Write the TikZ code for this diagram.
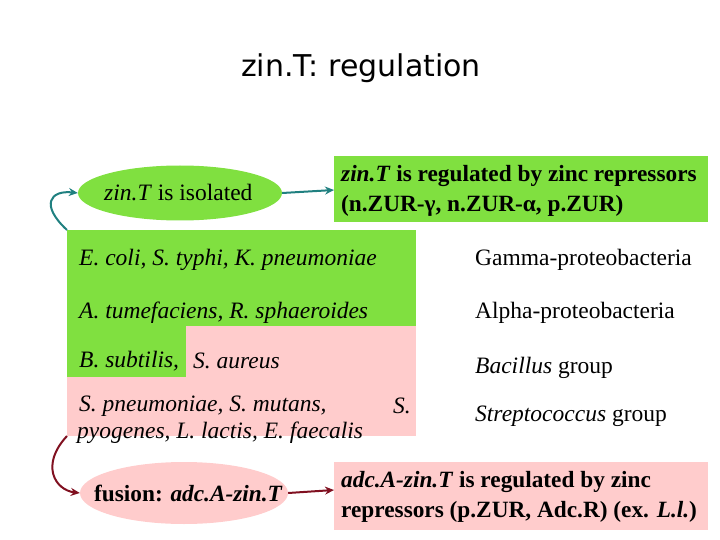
\documentclass[tikz,border=0pt]{standalone}
\usepackage{fontspec}
\setmainfont{Liberation Serif}
\newfontfamily\titlefont{DejaVu Sans}
\usetikzlibrary{shapes.geometric,arrows.meta}
\definecolor{lgreen}{RGB}{128,224,64}
\definecolor{lpink}{RGB}{255,204,204}
\definecolor{teal2}{RGB}{32,128,128}
\definecolor{dred}{RGB}{128,16,32}
\tikzset{
 txt/.style={anchor=west,inner sep=0pt,font=\fontsize{23.5}{27}\selectfont},
 boldtxt/.style={anchor=west,inner sep=0pt,font=\fontsize{23.3}{30}\selectfont\bfseries,align=left},
 arr/.style={line width=2pt,-{Stealth[length=9pt,width=8pt]}},
}
\begin{document}
\begin{tikzpicture}[x=1pt,y=-1pt]
\useasboundingbox (0,0) rectangle (720,540);
\node[font=\titlefont\fontsize{30}{34}\selectfont] (title) at (361,68) {zin.T: regulation};
% ellipses
\node[ellipse,fill=lgreen,minimum width=204pt,minimum height=55pt] (e1) at (180,193) {};
\node[txt] (e1t) at (104,193) {\textit{zin.T} is isolated};
\node[ellipse,fill=lpink,minimum width=208pt,minimum height=62pt] (e2) at (184,493) {};
\node[boldtxt] (e2t) at (94,493) {fusion: \textit{adc.A-zin.T}};
% right boxes
\fill[lgreen] (334,156) rectangle (708,222);
\node[boldtxt] (b1) at (341,191) {\textit{zin.T} is regulated by zinc repressors\\(n.ZUR-γ, n.ZUR-α, p.ZUR)};
\fill[lpink] (334,462) rectangle (708,530);
\node[boldtxt] (b2) at (341,497) {\textit{adc.A-zin.T} is regulated by zinc\\repressors (p.ZUR, Adc.R) (ex. \textit{L.l.})};
% regions
\fill[lgreen] (67,230) rectangle (416,326);
\fill[lgreen] (67,326) rectangle (186,377);
\fill[lpink] (186,326) rectangle (416,377);
\fill[lpink] (67,377) rectangle (416,436);
\coordinate (top) at (67,230);
\coordinate (bot) at (67,436);
\node[txt] (r1) at (79,260) {\textit{E. coli, S. typhi, K. pneumoniae}};
\node[txt] (r2) at (79,313) {\textit{A. tumefaciens, R. sphaeroides}};
\node[txt] (r3) at (79,361) {\textit{B. subtilis,}};
\node[txt] (r3b) at (193,361) {\textit{S. aureus}};
\node[txt] (r4) at (79,406) {\textit{S. pneumoniae, S. mutans,}};
\node[txt] (r4b) at (393,406) {\textit{S.}};
\node[txt] (r5) at (77,433) {\textit{pyogenes, L. lactis, E. faecalis}};
\node[txt] (g1) at (475,260) {Gamma-proteobacteria};
\node[txt] (g2) at (475,313) {Alpha-proteobacteria};
\node[txt] (g3) at (475,368) {\textit{Bacillus} group};
\node[txt] (g4) at (475,416) {\textit{Streptococcus} group};
% arrows
\draw[arr,teal2] (top) .. controls (40,205) and (50,190) .. (e1.west);
\draw[arr,teal2] (e1.east) -- (334,190);
\draw[arr,dred] (bot) .. controls (40,465) and (55,490) .. (e2.west);
\draw[arr,dred] (e2.east) -- (334,490);
\end{tikzpicture}
\end{document}
